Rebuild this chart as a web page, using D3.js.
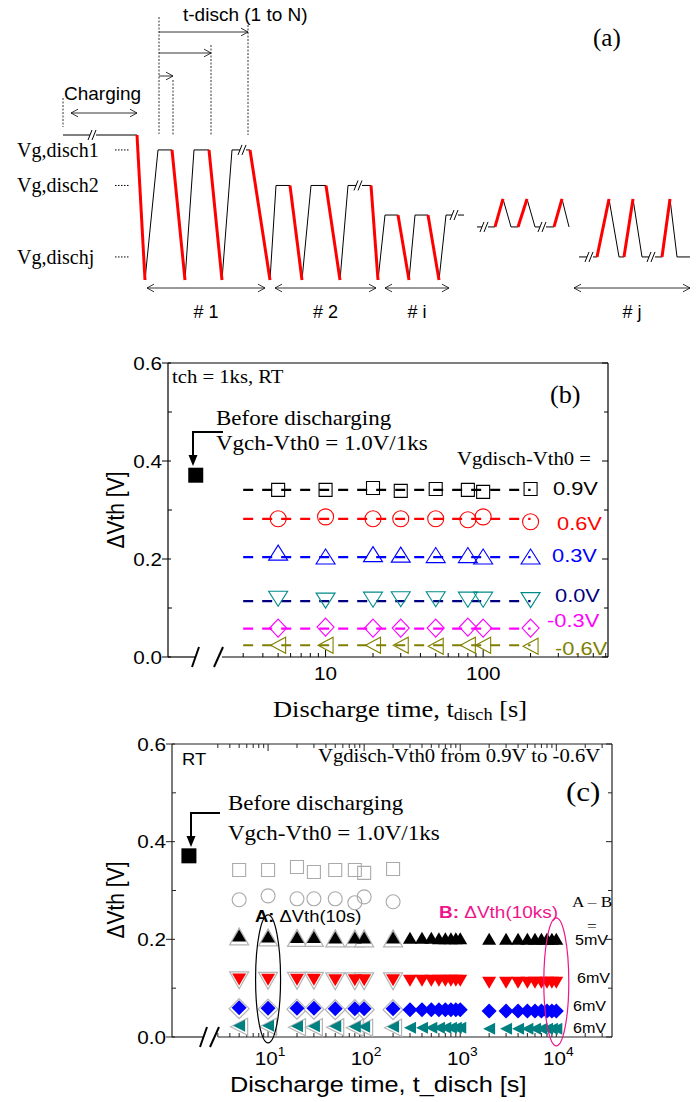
<!DOCTYPE html>
<html><head><meta charset="utf-8">
<script src="https://cdn.jsdelivr.net/npm/d3@7"></script>
<style>html,body{margin:0;padding:0;background:#fff}</style>
</head><body><svg id="chart" width="699" height="1102"></svg>
<script>
// ================= DATA =================
// Panel (b): discharge times and dVth per Vgdisch-Vth0
const tB = [5, 10, 20, 30, 50, 80, 100, 200];
const biasB = ["0.9V", "0.6V", "0.3V", "0.0V", "-0.3V", "-0.6V"];
const b09 = [0.341, 0.341, 0.345, 0.339, 0.343, 0.341, 0.337, 0.343];
const b06 = [0.282, 0.286, 0.282, 0.282, 0.282, 0.280, 0.286, 0.276];
const b03 = [0.213, 0.205, 0.210, 0.209, 0.208, 0.208, 0.205, 0.205];
const b00 = [0.119, 0.115, 0.117, 0.118, 0.118, 0.117, 0.117, 0.116];
const bm03 = [0.059, 0.061, 0.059, 0.059, 0.059, 0.061, 0.059, 0.059];
const bm06 = [0.024, 0.024, 0.024, 0.024, 0.022, 0.024, 0.024, 0.022];
const bFit = [0.341, 0.282, 0.204, 0.114, 0.058, 0.024];
const bFitRange = [3, 200];
const beforeT = 1.5;
const beforeVal = 0.371;
const tickB = [3,4,5,6,7,8,9,10,20,30,40,50,60,70,80,90,100,200,300,400,500,600];
const tickBLabels = [10, 100];

// Panel (c)
const tCg = [5, 10, 20, 30, 50, 80, 100, 200];
const c09 = [0.342, 0.342, 0.348, 0.338, 0.342, 0.342, 0.336, 0.344];
const c06 = [0.281, 0.289, 0.283, 0.283, 0.283, 0.275, 0.287, 0.277];
const tC = [5,10,20,30,50,80,100,200,300,400,500,600,700,800,900,1000,2000,3000,4000,5000,6000,7000,8000,9000,10000];
const c03 = [0.208,0.206,0.205,0.205,0.204,0.204,0.204,0.204,0.203,0.203,0.203,0.202,0.202,0.202,0.202,0.202,0.201,0.201,0.201,0.201,0.201,0.201,0.201,0.201,0.201];
const c00 = [0.118,0.117,0.117,0.117,0.116,0.116,0.116,0.116,0.115,0.115,0.115,0.115,0.115,0.115,0.115,0.115,0.111,0.111,0.111,0.111,0.111,0.111,0.111,0.111,0.111];
const cm03 = [0.060,0.059,0.059,0.059,0.058,0.058,0.058,0.058,0.056,0.056,0.056,0.056,0.056,0.056,0.056,0.056,0.053,0.053,0.053,0.053,0.053,0.053,0.053,0.053,0.053];
const cm06 = [0.023,0.023,0.022,0.022,0.022,0.021,0.021,0.021,0.019,0.019,0.019,0.019,0.019,0.019,0.019,0.019,0.017,0.017,0.017,0.017,0.017,0.017,0.017,0.017,0.017];
const outlinedMaxT = 200;
const diffLabels = ["5mV", "6mV", "6mV", "6mV"];
const tickC = [3,4,5,6,7,8,9,10,20,30,40,50,60,70,80,90,100,200,300,400,500,600,700,800,900,1000,2000,3000,4000,5000,6000,7000,8000,9000,10000,20000,30000];
const tickCLabels = [10, 100, 1000, 10000];
const yTicks = [0, 0.2, 0.4, 0.6];
const yMinor = [0.1, 0.3, 0.5];

// Panel (a) schematic: gate-voltage levels (normalized) and waveform vertices
const Ch = 1.0, L1 = 0.897, L2 = 0.652, Li = 0.448, Lm = 0.366, Pk = 0.559, Lj = 0.159, B0 = 0;
const waveBlack = [
  [[63,Ch],[137,Ch]],
  [[145,B0],[158,L1],[172,L1]],
  [[185,B0],[194,L1],[209,L1]],
  [[222,B0],[232,L1],[250,L1]],
  [[270,B0],[276,L2],[290,L2]],
  [[302,B0],[311,L2],[326,L2]],
  [[340,B0],[348,L2],[371,L2]],
  [[378,B0],[385,Li],[398,Li]],
  [[409,B0],[415,Li],[428,Li]],
  [[439,B0],[446,Li],[464,Li]],
  [[477,Lm],[495,Lm]],
  [[503,Pk],[511,Lm],[518,Lm]],
  [[527,Pk],[535,Lm],[554,Lm]],
  [[562,Pk],[569,Lm]],
  [[579,Lj],[597,Lj]],
  [[609,Pk],[619,Lj],[624,Lj]],
  [[633,Pk],[642,Lj],[662,Lj]],
  [[670,Pk],[677,Lj],[690,Lj]]
];
const waveRed = [
  [[137,Ch],[145,B0]], [[172,L1],[185,B0]], [[209,L1],[222,B0]], [[250,L1],[270,B0]],
  [[290,L2],[302,B0]], [[326,L2],[340,B0]], [[371,L2],[378,B0]],
  [[398,Li],[409,B0]], [[428,Li],[439,B0]],
  [[495,Lm],[503,Pk]], [[518,Lm],[527,Pk]], [[554,Lm],[562,Pk]],
  [[597,Lj],[609,Pk]], [[624,Lj],[633,Pk]], [[662,Lj],[670,Pk]]
];
const waveBreaks = [[93,Ch],[243,L1],[359,L2],[455,Li],[485,Lm],[543,Lm],[590,Lj],[652,Lj]];
const levelLabels = [["Vg,disch1", L1], ["Vg,disch2", L2], ["Vg,dischj", Lj]];
const groups = [["# 1",147,265],["# 2",275,376],["# i",385,449],["# j",574,690]];
const tdischEnds = [173, 211, 248];

// ================= DRAW =================
const svg = d3.select("#chart");
const SX = 1.15;
const SERIF = "'Liberation Serif','Times New Roman',serif";
const SANS = "'Liberation Sans',Arial,sans-serif";

function txt(g, x, y, s, o = {}) {
  const sx = o.sx ?? SX;
  return g.append("text")
    .attr("transform", `translate(${x},${y}) scale(${sx},1)` + (o.rot ? ` rotate(${o.rot})` : ""))
    .attr("font-family", o.ff || SANS)
    .attr("font-size", o.fs || 16)
    .attr("font-weight", o.fw || "normal")
    .attr("fill", o.fill || "#000")
    .attr("text-anchor", o.anchor || "start")
    .text(s);
}
function shapePath(type, w, h) {
  const p = d3.path();
  if (type === "square") p.rect(-w/2, -h/2, w, h);
  else if (type === "circle") { p.moveTo(w/2, 0); p.arc(0, 0, w/2, 0, 2*Math.PI); }
  else if (type === "up") { p.moveTo(0, -h/2); p.lineTo(w/2, h/2); p.lineTo(-w/2, h/2); p.closePath(); }
  else if (type === "down") { p.moveTo(-w/2, -h/2); p.lineTo(w/2, -h/2); p.lineTo(0, h/2); p.closePath(); }
  else if (type === "diamond") { p.moveTo(0, -h/2); p.lineTo(w/2, 0); p.lineTo(0, h/2); p.lineTo(-w/2, 0); p.closePath(); }
  else if (type === "left") { p.moveTo(-w/2, 0); p.lineTo(w/2, -h/2); p.lineTo(w/2, h/2); p.closePath(); }
  return p.toString();
}
function line(g, x1, y1, x2, y2, col = "#000", w = 1, dash = null) {
  const l = g.append("line").attr("x1", x1).attr("y1", y1).attr("x2", x2).attr("y2", y2)
    .attr("stroke", col).attr("stroke-width", w);
  if (dash) l.attr("stroke-dasharray", dash);
  return l;
}
function chevron(g, x, y, dir, len = 7, col = "#000", w = 1) {
  // open arrowhead; dir: 1 = pointing right, -1 = pointing left
  line(g, x, y, x - dir*len, y - len*0.55, col, w);
  line(g, x, y, x - dir*len, y + len*0.55, col, w);
}

// ---------- Panel (a) ----------
const gA = svg.append("g");
const xA = d3.scaleLinear().domain([0, 699]).range([0, 699]);
const yA = d3.scaleLinear().domain([0, 1]).range([280, 135]);
const lg = d3.line().x(d => xA(d[0])).y(d => yA(d[1]));
waveBlack.forEach(p => gA.append("path").attr("d", lg(p)).attr("fill", "none").attr("stroke", "#000").attr("stroke-width", 1));
waveRed.forEach(p => gA.append("path").attr("d", lg(p)).attr("fill", "none").attr("stroke", "#ff0000").attr("stroke-width", 3));
waveBreaks.forEach(([t, v]) => {
  const x = xA(t), y = yA(v);
  gA.append("rect").attr("x", x - 3).attr("y", y - 2).attr("width", 6).attr("height", 4).attr("fill", "#fff");
  line(gA, x - 5, y + 5, x - 1, y - 5, "#000", 1);
  line(gA, x - 1, y + 5, x + 3, y - 5, "#000", 1);
});
levelLabels.forEach(([s, v]) => {
  txt(gA, 17, yA(v) + 7, s, { ff: SERIF, fs: 20, sx: 1 });
  line(gA, xA(115), yA(v), xA(130), yA(v), "#000", 1, "1.5,1.5");
});
groups.forEach(([s, a, b]) => {
  line(gA, xA(a), 288, xA(b), 288, "#000", 0.8);
  chevron(gA, xA(a), 288, -1, 7, "#000", 0.8);
  chevron(gA, xA(b), 288, 1, 7, "#000", 0.8);
  txt(gA, (xA(a) + xA(b)) / 2, 318, s, { fs: 18, anchor: "middle", sx: 1 });
});
// t-disch annotation
line(gA, xA(159), 17, xA(159), 134, "#000", 0.8, "2,1.5");
tdischEnds.forEach((e, i) => {
  const y = [76, 53, 32][i];
  line(gA, xA(e), [80, 45, 25][i], xA(e), 135, "#000", 0.8, "2,1.5");
  line(gA, xA(159), y, xA(e), y, "#000", 0.8);
  chevron(gA, xA(e), y, 1, 7, "#000", 0.8);
});
txt(gA, 183, 21, "t-disch  (1 to N)", { fs: 19, sx: 1 });
// charging
line(gA, xA(63), 98, xA(63), 127, "#000", 0.8, "2,1.5");
line(gA, xA(71), 113, xA(137), 113, "#000", 0.8);
chevron(gA, xA(71), 113, -1, 7, "#000", 0.8);
chevron(gA, xA(137), 113, 1, 7, "#000", 0.8);
txt(gA, 64, 100, "Charging", { fs: 19, sx: 1 });
txt(gA, 593, 46, "(a)", { ff: SERIF, fs: 25, sx: 1 });

// ---------- common axis helper ----------
function panel(box, xDom, xTicks, xLabels, breakX, opts) {
  const g = svg.append("g");
  const x = d3.scaleLog().domain(xDom).range([box.l, box.r]);
  const y = d3.scaleLinear().domain([0, 0.6]).range([box.b, box.t]);
  const fc = opts.frame || "#000";
  // frame
  line(g, box.l, box.t, box.r, box.t, fc, 1.2);
  line(g, box.l, box.t, box.l, box.b, fc, 1.2);
  line(g, box.r, box.t, box.r, box.b, fc, 1.2);
  line(g, box.l, box.b, breakX[0], box.b, fc, 1.2);
  line(g, breakX[1], box.b, box.r, box.b, fc, 1.2);
  // break marks
  [[breakX[0] - 3, breakX[0] + 4], [breakX[1] - 8, breakX[1] + 1]].forEach(([a, b2]) => {
    line(g, a, box.b + 10, b2, box.b - 10, "#000", 2);
  });
  // x ticks
  xTicks.forEach(t => {
    const maj = xLabels.includes(t);
    line(g, x(t), box.b, x(t), box.b - (maj ? 7 : 4), fc, 1);
    if (opts.topTicks) line(g, x(t), box.t, x(t), box.t + (maj ? 7 : 4), fc, 1);
  });
  // y ticks
  yTicks.forEach(v => {
    line(g, box.l - 6, y(v), box.l + 3, y(v), fc, 1);
    line(g, box.r, y(v), box.r - 6, y(v), fc, 1);
    txt(g, box.l - 6, y(v) + 6.5, v.toFixed(1), { fs: opts.yfs, anchor: "end" });
  });
  yMinor.forEach(v => {
    line(g, box.l, y(v), box.l + 4, y(v), fc, 1);
    line(g, box.r, y(v), box.r - 4, y(v), fc, 1);
  });
  return { g, x, y };
}

// ---------- Panel (b) ----------
const boxB = { l: 168, r: 608, t: 363, b: 657 };
const PB = panel(boxB, [1, 620], tickB, tickBLabels, [195, 222], { yfs: 18 });
tickBLabels.forEach(t => txt(PB.g, PB.x(t), 680, String(t), { fs: 18, anchor: "middle" }));
const bSeries = [
  { vals: b09, shape: "square", w: 13, h: 13, mk: "#000000", ln: "#000000", lab: "#000000", lx: 553, ly: 495 },
  { vals: b06, shape: "circle", w: 16, h: 16, mk: "#ff0000", ln: "#ff0000", lab: "#ff0000", lx: 557, ly: 530 },
  { vals: b03, shape: "up", w: 19, h: 15, mk: "#0000ff", ln: "#0000ff", lab: "#0000ff", lx: 552, ly: 562 },
  { vals: b00, shape: "down", w: 19, h: 15, mk: "#008b8b", ln: "#000080", lab: "#000080", lx: 555, ly: 602 },
  { vals: bm03, shape: "diamond", w: 17, h: 18, mk: "#ff00ff", ln: "#ff00ff", lab: "#ff00ff", lx: 547, ly: 627 },
  { vals: bm06, shape: "left", w: 15, h: 16, mk: "#808000", ln: "#808000", lab: "#808000", lx: 555, ly: 655 }
];
bSeries.forEach((s, i) => {
  line(PB.g, PB.x(bFitRange[0]), PB.y(bFit[i]), PB.x(bFitRange[1]), PB.y(bFit[i]), s.ln, 2.2, "10,9");
  PB.g.selectAll(null).data(tB.map((t, k) => [t, s.vals[k]])).enter().append("path")
    .attr("d", shapePath(s.shape, s.w, s.h))
    .attr("transform", d => `translate(${PB.x(d[0])},${PB.y(d[1])})`)
    .attr("fill", "none").attr("stroke", s.mk).attr("stroke-width", 1.1);
  txt(PB.g, s.lx, s.ly, biasB[i], { fs: 19, fill: s.lab });
});
// before discharging point
PB.g.append("rect").attr("x", PB.x(beforeT) - 7.5).attr("y", PB.y(beforeVal) - 7.5)
  .attr("width", 15).attr("height", 15).attr("fill", "#000");
function bentArrow(g, x0, y0, xc, y1) {
  g.append("path").attr("d", `M${x0},${y0}H${xc}V${y1 - 9}`).attr("fill", "none").attr("stroke", "#000").attr("stroke-width", 2);
  g.append("path").attr("d", `M${xc - 4.5},${y1 - 11}L${xc + 4.5},${y1 - 11}L${xc},${y1}Z`).attr("fill", "#000");
}
bentArrow(PB.g, 223, 432, 193, 466);
txt(PB.g, 172, 383, "tch = 1ks, RT", { ff: SERIF, fs: 18 });
txt(PB.g, 216, 425, "Before discharging", { ff: SERIF, fs: 20 });
txt(PB.g, 216, 450, "Vgch-Vth0 = 1.0V/1ks", { ff: SERIF, fs: 20 });
txt(PB.g, 457, 465, "Vgdisch-Vth0 =", { ff: SERIF, fs: 18 });
txt(PB.g, 550, 403, "(b)", { ff: SERIF, fs: 25, sx: 1.05 });
txt(PB.g, 124, 510, "\u0394Vth [V]", { fs: 21, anchor: "middle", rot: -90 });
{
  const t = txt(PB.g, 273, 717, "", { ff: SERIF, fs: 23 });
  t.append("tspan").text("Discharge time, t");
  t.append("tspan").attr("font-size", 16).attr("dy", 3).text("disch");
  t.append("tspan").attr("dy", -3).text(" [s]");
}

// ---------- Panel (c) ----------
const boxC = { l: 172, r: 612, t: 744, b: 1037 };
const PC = panel(boxC, [1, 38000], tickC, tickCLabels, [203, 218], { yfs: 18, topTicks: true, frame: "#222" });
tickCLabels.forEach(t => {
  const e = Math.round(Math.log10(t));
  const tt = txt(PC.g, PC.x(t) + 2, 1065, "", { fs: 18, anchor: "middle" });
  tt.append("tspan").text("10");
  tt.append("tspan").attr("font-size", 12).attr("dy", -9).text(String(e));
});
// gray open series
[[c09, "square", 13, 13], [c06, "circle", 14, 14]].forEach(([vals, sh, w, h]) => {
  PC.g.selectAll(null).data(tCg.map((t, k) => [t, vals[k]])).enter().append("path")
    .attr("d", shapePath(sh, w, h))
    .attr("transform", d => `translate(${PC.x(d[0])},${PC.y(d[1])})`)
    .attr("fill", "none").attr("stroke", "#aaaaaa").attr("stroke-width", 1.1);
});
const cSeries = [
  { vals: c03, shape: "up", w: 14, h: 12, col: "#000000" },
  { vals: c00, shape: "down", w: 14, h: 12, col: "#ff0000" },
  { vals: cm03, shape: "diamond", w: 15, h: 15, col: "#0000ff" },
  { vals: cm06, shape: "left", w: 12, h: 12, col: "#008080" }
];
cSeries.forEach(s => {
  const pts = tC.map((t, k) => [t, s.vals[k]]);
  PC.g.selectAll(null).data(pts.filter(d => d[0] <= outlinedMaxT)).enter().append("path")
    .attr("d", shapePath(s.shape, s.w + 5, s.h + 5))
    .attr("transform", d => `translate(${PC.x(d[0])},${PC.y(d[1]) + 1})`)
    .attr("fill", "#fff").attr("stroke", "#b4b4b4").attr("stroke-width", 1.2);
  PC.g.selectAll(null).data(pts).enter().append("path")
    .attr("d", shapePath(s.shape, s.w, s.h))
    .attr("transform", d => `translate(${PC.x(d[0])},${PC.y(d[1])})`)
    .attr("fill", s.col);
});
PC.g.append("rect").attr("x", PC.x(beforeT) - 7.5).attr("y", PC.y(beforeVal) - 7.5)
  .attr("width", 15).attr("height", 15).attr("fill", "#000");
bentArrow(PC.g, 220, 813, 191, 847);
txt(PC.g, 182, 765, "RT", { fs: 16 });
txt(PC.g, 318, 762, "Vgdisch-Vth0 from 0.9V to -0.6V", { ff: SERIF, fs: 18 });
txt(PC.g, 566, 801, "(c)", { ff: SERIF, fs: 27 });
txt(PC.g, 228, 810, "Before discharging", { ff: SERIF, fs: 20 });
txt(PC.g, 228, 840, "Vgch-Vth0 = 1.0V/1ks", { ff: SERIF, fs: 20 });
{
  const a = txt(PC.g, 255, 922, "", { fs: 16 });
  a.append("tspan").attr("font-weight", "bold").text("A:");
  a.append("tspan").text(" \u0394Vth(10s)");
  const b = txt(PC.g, 439, 918, "", { fs: 16.5, fill: "#f0148c" });
  b.append("tspan").attr("font-weight", "bold").text("B:");
  b.append("tspan").text(" \u0394Vth(10ks)");
}
// ellipses A (10 s) and B (10 ks)
const ellVals = [-0.012, 0.25];
PC.g.append("ellipse").attr("cx", PC.x(10)).attr("cy", (PC.y(ellVals[0]) + PC.y(ellVals[1])) / 2)
  .attr("rx", 12.5).attr("ry", (PC.y(ellVals[0]) - PC.y(ellVals[1])) / 2)
  .attr("fill", "none").attr("stroke", "#000").attr("stroke-width", 1.2);
PC.g.append("ellipse").attr("cx", PC.x(10000)).attr("cy", (PC.y(ellVals[0]) + PC.y(ellVals[1])) / 2 + 3)
  .attr("rx", 12.5).attr("ry", (PC.y(ellVals[0]) - PC.y(ellVals[1])) / 2)
  .attr("fill", "none").attr("stroke", "#f0148c").attr("stroke-width", 1.2);
txt(PC.g, 572, 907, "A \u2013 B", { ff: SERIF, fs: 15 });
txt(PC.g, 587, 931, "=", { ff: SERIF, fs: 15 });
[[575, 945], [577, 983], [573, 1011], [573, 1033]].forEach(([x, y], i) => txt(PC.g, x, y, diffLabels[i], { fs: 14 }));
txt(PC.g, 124, 900, "\u0394Vth [V]", { fs: 21, anchor: "middle", rot: -90 });
txt(PC.g, 230, 1092, "Discharge time, t_disch [s]", { fs: 22 });
</script></body></html>
